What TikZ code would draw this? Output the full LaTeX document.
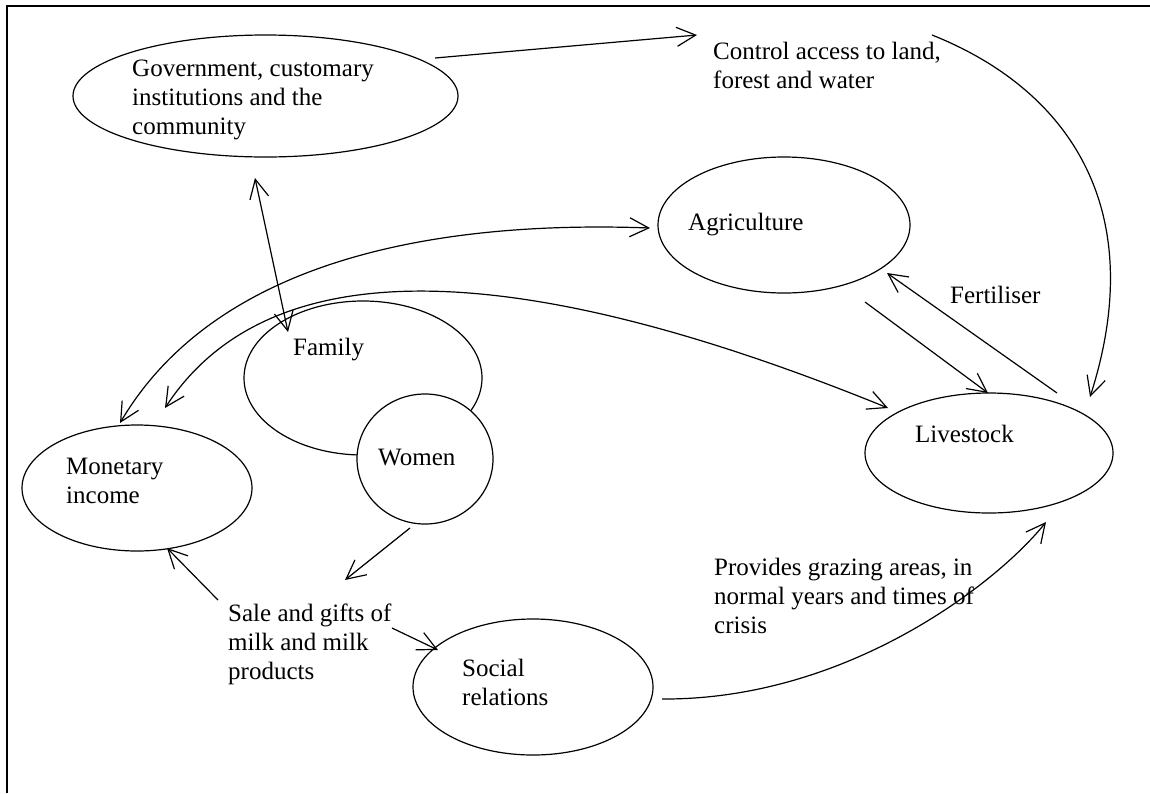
\documentclass[tikz,border=0pt]{standalone}
\usepackage{fontspec}
\setmainfont{Liberation Serif}
\usetikzlibrary{arrows.meta,shapes.geometric}
\begin{document}
\begin{tikzpicture}[x=1pt,y=-1pt,
  barb/.tip={Straight Barb[length=19pt,width=19pt]},
  ell/.style={draw,ellipse,line width=1.2pt,inner sep=0pt,outer sep=0pt,fill=white},
  lbl/.style={anchor=base west,inner sep=0pt,align=left,font=\fontsize{25}{29}\selectfont},
  conn/.style={line width=1.2pt,-barb},
  both/.style={line width=1.2pt,barb-barb},
  ]
\useasboundingbox (0,0) rectangle (1150,793);
\draw[line width=1.5pt] (7,793) -- (7,6) -- (1150,6);

% ellipses
\node[ell,minimum width=385pt,minimum height=122pt] (gov) at (265.5,96) {};
\node[ell,minimum width=252pt,minimum height=136pt] (agri) at (784,225) {};
\node[ell,minimum width=248pt,minimum height=120pt] (live) at (989,453) {};
\node[ell,minimum width=238pt,minimum height=154pt] (family) at (363,378) {};
\node[ell,minimum width=136pt,minimum height=130pt] (women) at (425,459) {};
\node[ell,minimum width=230pt,minimum height=126pt] (money) at (137,488) {};
\node[ell,minimum width=240pt,minimum height=136pt] (social) at (533,687) {};

% labels (anchored at the baseline of their last line)
\node[lbl] (govt) at (132,134) {Government, customary\\institutions and the\\community};
\node[lbl] (control) at (713,88) {Control access to land,\\forest and water};
\node[lbl] (agrit) at (688,230) {Agriculture};
\node[lbl] (fert) at (950,303) {Fertiliser};
\node[lbl] (livet) at (915,442) {Livestock};
\node[lbl] (familyt) at (293,355) {Family};
\node[lbl] (woment) at (378,465) {Women};
\node[lbl] (moneyt) at (66,503) {Monetary\\income};
\node[lbl] (sale) at (228,679) {Sale and gifts of\\milk and milk\\products};
\node[lbl] (socialt) at (462,705) {Social\\relations};
\node[lbl] (graze) at (714,633) {Provides grazing areas, in\\normal years and times of\\crisis};

% connector end points
\coordinate (c1) at (435,58);
\coordinate (c2) at (697,35);
\coordinate (c3) at (932,35);
\coordinate (c4) at (1090,397);
\coordinate (c5) at (865,302);
\coordinate (c6) at (988,393);
\coordinate (c7) at (1057,393);
\coordinate (c8) at (887,273);
\coordinate (c9) at (255,178);
\coordinate (c10) at (288,332);
\coordinate (c11) at (120,423);
\coordinate (c12) at (650,228);
\coordinate (c13) at (165,408);
\coordinate (c14) at (888,408);
\coordinate (c15) at (410,528);
\coordinate (c16) at (345,580);
\coordinate (c17) at (218,600);
\coordinate (c18) at (167,548);
\coordinate (c19) at (392,628);
\coordinate (c20) at (438,650);
\coordinate (c21) at (662,699);
\coordinate (c22) at (1046,522);

% connectors
\draw[conn] (c1) -- (c2);
\draw[conn] (c3) .. controls (1070,90) and (1150,210) .. (c4);
\draw[conn] (c5) -- (c6);
\draw[conn] (c7) -- (c8);
\draw[both] (c9) -- (c10);
\draw[both] (c11) .. controls (215,262) and (430,220) .. (c12);
\draw[both] (c13) .. controls (265,255) and (500,250) .. (c14);
\draw[conn] (c15) -- (c16);
\draw[conn] (c17) -- (c18);
\draw[conn] (c19) -- (c20);
\draw[conn] (c21) .. controls (850,700) and (1000,580) .. (c22);
\end{tikzpicture}
\end{document}
